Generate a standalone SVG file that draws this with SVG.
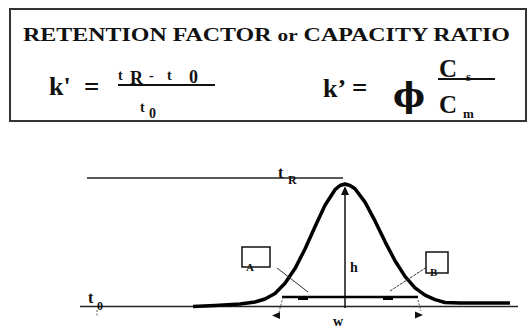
<svg xmlns="http://www.w3.org/2000/svg" width="530" height="329" viewBox="0 0 530 329">
<style>
  .t { font-family: "Liberation Serif", "Times New Roman", serif; font-weight: bold; fill: #111; }
  .thin { stroke: #222; stroke-width: 1.5; fill: none; }
  .faint { stroke: #555; stroke-width: 1; fill: none; stroke-dasharray: 2 1.5; }
  .head { fill: #111; stroke: none; }
</style>
<rect width="530" height="329" fill="#fff"/>
<g id="formula-box">
  <rect x="10" y="9" width="516" height="112" fill="#fff" stroke="#333" stroke-width="2"/>
  <text class="t" x="23" y="41" font-size="18" textLength="487" lengthAdjust="spacingAndGlyphs">RETENTION FACTOR <tspan font-size="16">or</tspan> CAPACITY RATIO</text>
  <g id="formula-left">
    <text class="t" x="49" y="95" font-size="26">k'</text>
    <text class="t" x="84" y="96" font-size="27">=</text>
    <text class="t" x="118" y="80" font-size="14">t</text>
    <text class="t" x="130" y="84" font-size="18">R</text>
    <text class="t" x="149" y="80" font-size="14">-</text>
    <text class="t" x="167" y="80" font-size="14">t</text>
    <text class="t" x="189" y="83" font-size="18">0</text>
    <line x1="118" y1="85" x2="215" y2="85" stroke="#111" stroke-width="2"/>
    <text class="t" x="140" y="112" font-size="14">t</text>
    <text class="t" x="149" y="118" font-size="14">0</text>
  </g>
  <g id="formula-right">
    <text class="t" x="323" y="97" font-size="26">k’</text>
    <text class="t" x="352" y="97" font-size="27">=</text>
    <text x="393" y="107" font-size="34" font-weight="bold" font-family="'DejaVu Serif', serif" fill="#111">ϕ</text>
    <text class="t" x="439" y="77" font-size="25">C</text>
    <text class="t" x="466" y="81" font-size="13">s</text>
    <line x1="438" y1="79" x2="495" y2="79" stroke="#111" stroke-width="2"/>
    <text class="t" x="439" y="113" font-size="25">C</text>
    <text class="t" x="463" y="118" font-size="13">m</text>
  </g>
</g>
<g id="axes">
  <line class="thin" x1="87" y1="178" x2="343" y2="178"/>
  <line class="thin" x1="80" y1="306.5" x2="518" y2="306.5"/>
  <text class="t" x="278" y="178" font-size="16">t</text>
  <text class="t" x="288" y="184" font-size="12">R</text>
  <text class="t" x="88" y="303" font-size="16">t</text>
  <text class="t" x="97" y="310" font-size="12">0</text>
  <line class="faint" x1="97" y1="310" x2="97" y2="317"/>
</g>
<g id="peak">
  <polyline fill="none" stroke="#000" stroke-width="3.5" stroke-linejoin="round" stroke-linecap="butt" points="193,306.5 215,305.5 240,304 255,302 265,299 275,293.5 285,283.3 295,268.6 305,249 315,226.7 325,205.3 335,189.7 340,185.5 345,184 350,185.5 355,188.8 365,202.1 375,220.9 385,241.6 395,260.8 405,276.4 415,287.8 425,295.2 435,299.6 445,302.5 460,303 510,303"/>
</g>
<g id="height">
  <line x1="345" y1="192" x2="345" y2="308" stroke="#111" stroke-width="1.5"/>
  <polygon class="head" points="345,186 341,195 349,195"/>
  <text class="t" x="350" y="272" font-size="14">h</text>
</g>
<g id="width">
  <line x1="282" y1="297" x2="418" y2="297" stroke="#000" stroke-width="2.5"/>
  <rect x="298" y="296" width="10" height="4" fill="#000"/>
  <rect x="383" y="296" width="10" height="4" fill="#000"/>
  <line class="faint" x1="283" y1="297" x2="279" y2="312"/>
  <line class="faint" x1="418" y1="300" x2="421" y2="311"/>
  <polygon class="head" points="272,315.5 280,312 280,319"/>
  <polygon class="head" points="423,315 415,311.5 415,318.5"/>
  <text class="t" x="333" y="326" font-size="14">w</text>
</g>
<g id="point-A">
  <rect x="242" y="247" width="28" height="20" fill="none" stroke="#111" stroke-width="1.5"/>
  <text class="t" x="246" y="271" font-size="11">A</text>
  <line x1="277" y1="268" x2="308" y2="292" stroke="#333" stroke-width="1"/>
</g>
<g id="point-B">
  <rect x="426" y="252" width="22" height="21" fill="none" stroke="#111" stroke-width="1.5"/>
  <text class="t" x="430" y="276" font-size="11">B</text>
  <line x1="390" y1="291" x2="427" y2="267" stroke="#333" stroke-width="1" stroke-dasharray="3 1"/>
</g>
</svg>
